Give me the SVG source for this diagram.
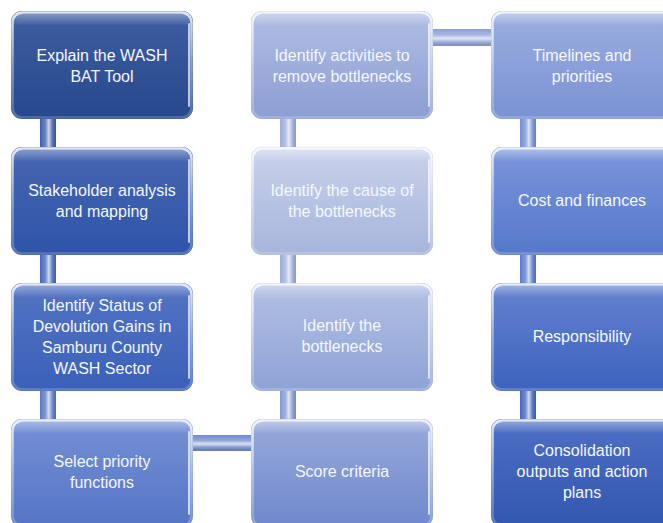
<svg xmlns="http://www.w3.org/2000/svg" width="663" height="523" viewBox="0 0 663 523">
  <defs>
    <style>
      .lbl { font-family: "Liberation Sans", Arial, sans-serif; font-size: 16px; fill: #F5F7FC; text-anchor: middle; }
      .edge { fill: none; stroke: url(#rim); stroke-width: 2.5; }
      .gloss { fill: url(#gloss); }
      .side { fill: none; stroke: #ffffff; stroke-opacity: 0.7; stroke-width: 2; stroke-linecap: round; }
    </style>
    <!-- bevel rim: bright on top, fading lower down -->
    <linearGradient id="rim" x1="0" y1="0" x2="0" y2="1">
      <stop offset="0" stop-color="#ffffff" stop-opacity="0.85"/>
      <stop offset="0.5" stop-color="#ffffff" stop-opacity="0.45"/>
      <stop offset="1" stop-color="#ffffff" stop-opacity="0.2"/>
    </linearGradient>
    <linearGradient id="gloss" x1="0" y1="0" x2="0" y2="1">
      <stop offset="0" stop-color="#ffffff" stop-opacity="0.35"/>
      <stop offset="1" stop-color="#ffffff" stop-opacity="0"/>
    </linearGradient>
    <!-- cylindrical shine for connector bars -->
    <linearGradient id="shineV" x1="0" y1="0" x2="1" y2="0">
      <stop offset="0" stop-color="#ffffff" stop-opacity="0"/>
      <stop offset="0.35" stop-color="#ffffff" stop-opacity="0.25"/>
      <stop offset="0.55" stop-color="#ffffff" stop-opacity="0.75"/>
      <stop offset="0.75" stop-color="#ffffff" stop-opacity="0.2"/>
      <stop offset="1" stop-color="#000000" stop-opacity="0.1"/>
    </linearGradient>
    <linearGradient id="shineH" x1="0" y1="0" x2="0" y2="1">
      <stop offset="0" stop-color="#ffffff" stop-opacity="0"/>
      <stop offset="0.35" stop-color="#ffffff" stop-opacity="0.25"/>
      <stop offset="0.55" stop-color="#ffffff" stop-opacity="0.75"/>
      <stop offset="0.75" stop-color="#ffffff" stop-opacity="0.2"/>
      <stop offset="1" stop-color="#000000" stop-opacity="0.1"/>
    </linearGradient>
    <!-- box fills -->
    <linearGradient id="g11" x1="0" y1="0" x2="0" y2="1"><stop offset="0" stop-color="#3E5EA0"/><stop offset="1" stop-color="#28488E"/></linearGradient>
    <linearGradient id="g12" x1="0" y1="0" x2="0" y2="1"><stop offset="0" stop-color="#4666B0"/><stop offset="1" stop-color="#2F54A9"/></linearGradient>
    <linearGradient id="g13" x1="0" y1="0" x2="0" y2="1"><stop offset="0" stop-color="#5474C3"/><stop offset="1" stop-color="#3A60B8"/></linearGradient>
    <linearGradient id="g14" x1="0" y1="0" x2="0" y2="1"><stop offset="0" stop-color="#7690D4"/><stop offset="1" stop-color="#5475C6"/></linearGradient>
    <linearGradient id="g24" x1="0" y1="0" x2="0" y2="1"><stop offset="0" stop-color="#98AADB"/><stop offset="1" stop-color="#6F88CC"/></linearGradient>
    <linearGradient id="g23" x1="0" y1="0" x2="0" y2="1"><stop offset="0" stop-color="#B3C0E4"/><stop offset="1" stop-color="#8EA2D6"/></linearGradient>
    <linearGradient id="g22" x1="0" y1="0" x2="0" y2="1"><stop offset="0" stop-color="#C9D2EC"/><stop offset="1" stop-color="#A7B5DC"/></linearGradient>
    <linearGradient id="g21" x1="0" y1="0" x2="0" y2="1"><stop offset="0" stop-color="#B1BEE4"/><stop offset="1" stop-color="#8C9DD3"/></linearGradient>
    <linearGradient id="g31" x1="0" y1="0" x2="0" y2="1"><stop offset="0" stop-color="#9BAEE0"/><stop offset="1" stop-color="#7A92D3"/></linearGradient>
    <linearGradient id="g32" x1="0" y1="0" x2="0" y2="1"><stop offset="0" stop-color="#7C96DA"/><stop offset="1" stop-color="#5578CB"/></linearGradient>
    <linearGradient id="g33" x1="0" y1="0" x2="0" y2="1"><stop offset="0" stop-color="#6482D0"/><stop offset="1" stop-color="#3D63BE"/></linearGradient>
    <linearGradient id="g34" x1="0" y1="0" x2="0" y2="1"><stop offset="0" stop-color="#4E6FC5"/><stop offset="1" stop-color="#3257AE"/></linearGradient>
  </defs>

  <rect width="663" height="523" fill="#ffffff"/>

  <!-- connector bars (run behind the boxes) -->
  <g id="connectors">
    <rect x="40" y="110" width="16" height="40" fill="#3D5FAE"/>
    <rect x="40" y="110" width="16" height="40" fill="url(#shineV)"/>
    <rect x="40" y="246" width="16" height="40" fill="#4668BB"/>
    <rect x="40" y="246" width="16" height="40" fill="url(#shineV)"/>
    <rect x="40" y="382" width="16" height="40" fill="#5878C6"/>
    <rect x="40" y="382" width="16" height="40" fill="url(#shineV)"/>

    <rect x="185" y="435" width="70" height="16" fill="#6F89CD"/>
    <rect x="185" y="435" width="70" height="16" fill="url(#shineH)"/>

    <rect x="280" y="382" width="16" height="40" fill="#8399D2"/>
    <rect x="280" y="382" width="16" height="40" fill="url(#shineV)"/>
    <rect x="280" y="246" width="16" height="40" fill="#9DAEDB"/>
    <rect x="280" y="246" width="16" height="40" fill="url(#shineV)"/>
    <rect x="280" y="110" width="16" height="40" fill="#9EADDA"/>
    <rect x="280" y="110" width="16" height="40" fill="url(#shineV)"/>

    <rect x="425" y="29" width="70" height="17" fill="#8D9FD6"/>
    <rect x="425" y="29" width="70" height="17" fill="url(#shineH)"/>

    <rect x="520" y="110" width="16" height="40" fill="#7690D6"/>
    <rect x="520" y="110" width="16" height="40" fill="url(#shineV)"/>
    <rect x="520" y="246" width="16" height="40" fill="#5A7ACC"/>
    <rect x="520" y="246" width="16" height="40" fill="url(#shineV)"/>
    <rect x="520" y="382" width="16" height="40" fill="#4467BC"/>
    <rect x="520" y="382" width="16" height="40" fill="url(#shineV)"/>
  </g>

  <!-- column 1 -->
  <g id="explain-tool">
    <rect x="11" y="11" width="182" height="108" rx="11" fill="url(#g11)"/>
    <rect x="12.5" y="12.5" width="179" height="105" rx="10" class="edge"/>
    <path d="M20 14 H184 Q190 14 190 22 V26 H14 V22 Q14 14 20 14 Z" class="gloss"/>
    <path d="M189 24 V106" class="side"/>
    <text class="lbl" x="102" y="61">Explain the WASH</text>
    <text class="lbl" x="102" y="82">BAT Tool</text>
  </g>
  <g id="stakeholder-analysis">
    <rect x="11" y="147" width="182" height="108" rx="11" fill="url(#g12)"/>
    <rect x="12.5" y="148.5" width="179" height="105" rx="10" class="edge"/>
    <path d="M20 150 H184 Q190 150 190 158 V162 H14 V158 Q14 150 20 150 Z" class="gloss"/>
    <path d="M189 160 V242" class="side"/>
    <text class="lbl" x="102" y="196">Stakeholder analysis</text>
    <text class="lbl" x="102" y="217">and mapping</text>
  </g>
  <g id="devolution-status">
    <rect x="11" y="283" width="182" height="108" rx="11" fill="url(#g13)"/>
    <rect x="12.5" y="284.5" width="179" height="105" rx="10" class="edge"/>
    <path d="M20 286 H184 Q190 286 190 294 V298 H14 V294 Q14 286 20 286 Z" class="gloss"/>
    <path d="M189 296 V378" class="side"/>
    <text class="lbl" x="102" y="311">Identify Status of</text>
    <text class="lbl" x="102" y="332">Devolution Gains in</text>
    <text class="lbl" x="102" y="353">Samburu County</text>
    <text class="lbl" x="102" y="374">WASH Sector</text>
  </g>
  <g id="priority-functions">
    <rect x="11" y="419" width="182" height="108" rx="11" fill="url(#g14)"/>
    <rect x="12.5" y="420.5" width="179" height="105" rx="10" class="edge"/>
    <path d="M20 422 H184 Q190 422 190 430 V434 H14 V430 Q14 422 20 422 Z" class="gloss"/>
    <path d="M189 432 V514" class="side"/>
    <text class="lbl" x="102" y="467">Select priority</text>
    <text class="lbl" x="102" y="488">functions</text>
  </g>

  <!-- column 2 -->
  <g id="score-criteria">
    <rect x="251" y="419" width="182" height="108" rx="11" fill="url(#g24)"/>
    <rect x="252.5" y="420.5" width="179" height="105" rx="10" class="edge"/>
    <path d="M260 422 H424 Q430 422 430 430 V434 H254 V430 Q254 422 260 422 Z" class="gloss"/>
    <path d="M429 432 V514" class="side"/>
    <text class="lbl" x="342" y="477">Score criteria</text>
  </g>
  <g id="identify-bottlenecks">
    <rect x="251" y="283" width="182" height="108" rx="11" fill="url(#g23)"/>
    <rect x="252.5" y="284.5" width="179" height="105" rx="10" class="edge"/>
    <path d="M260 286 H424 Q430 286 430 294 V298 H254 V294 Q254 286 260 286 Z" class="gloss"/>
    <path d="M429 296 V378" class="side"/>
    <text class="lbl" x="342" y="331">Identify the</text>
    <text class="lbl" x="342" y="352">bottlenecks</text>
  </g>
  <g id="bottleneck-causes">
    <rect x="251" y="147" width="182" height="108" rx="11" fill="url(#g22)"/>
    <rect x="252.5" y="148.5" width="179" height="105" rx="10" class="edge"/>
    <path d="M260 150 H424 Q430 150 430 158 V162 H254 V158 Q254 150 260 150 Z" class="gloss"/>
    <path d="M429 160 V242" class="side"/>
    <text class="lbl" x="342" y="196">Identify the cause of</text>
    <text class="lbl" x="342" y="217">the bottlenecks</text>
  </g>
  <g id="remove-bottlenecks">
    <rect x="251" y="11" width="182" height="108" rx="11" fill="url(#g21)"/>
    <rect x="252.5" y="12.5" width="179" height="105" rx="10" class="edge"/>
    <path d="M260 14 H424 Q430 14 430 22 V26 H254 V22 Q254 14 260 14 Z" class="gloss"/>
    <path d="M429 24 V106" class="side"/>
    <text class="lbl" x="342" y="61">Identify activities to</text>
    <text class="lbl" x="342" y="82">remove bottlenecks</text>
  </g>

  <!-- column 3 -->
  <g id="timelines">
    <rect x="491" y="11" width="182" height="108" rx="11" fill="url(#g31)"/>
    <rect x="492.5" y="12.5" width="179" height="105" rx="10" class="edge"/>
    <path d="M500 14 H664 Q670 14 670 22 V26 H494 V22 Q494 14 500 14 Z" class="gloss"/>
    <text class="lbl" x="582" y="61">Timelines and</text>
    <text class="lbl" x="582" y="82">priorities</text>
  </g>
  <g id="cost-finances">
    <rect x="491" y="147" width="182" height="108" rx="11" fill="url(#g32)"/>
    <rect x="492.5" y="148.5" width="179" height="105" rx="10" class="edge"/>
    <path d="M500 150 H664 Q670 150 670 158 V162 H494 V158 Q494 150 500 150 Z" class="gloss"/>
    <text class="lbl" x="582" y="206">Cost and finances</text>
  </g>
  <g id="responsibility">
    <rect x="491" y="283" width="182" height="108" rx="11" fill="url(#g33)"/>
    <rect x="492.5" y="284.5" width="179" height="105" rx="10" class="edge"/>
    <path d="M500 286 H664 Q670 286 670 294 V298 H494 V294 Q494 286 500 286 Z" class="gloss"/>
    <text class="lbl" x="582" y="342">Responsibility</text>
  </g>
  <g id="consolidation">
    <rect x="491" y="419" width="182" height="108" rx="11" fill="url(#g34)"/>
    <rect x="492.5" y="420.5" width="179" height="105" rx="10" class="edge"/>
    <path d="M500 422 H664 Q670 422 670 430 V434 H494 V430 Q494 422 500 422 Z" class="gloss"/>
    <text class="lbl" x="582" y="456">Consolidation</text>
    <text class="lbl" x="582" y="477">outputs and action</text>
    <text class="lbl" x="582" y="498">plans</text>
  </g>
</svg>
